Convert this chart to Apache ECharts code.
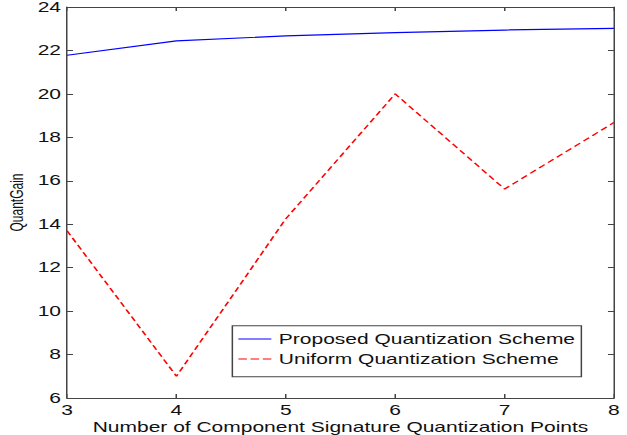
<!DOCTYPE html>
<html>
<head>
<meta charset="utf-8">
<script src="https://cdn.jsdelivr.net/npm/echarts@6/dist/echarts.min.js"></script>
<style>
  html, body { margin: 0; padding: 0; background: #fff; overflow: hidden; }
  /* The figure is laid out on a narrower canvas and stretched horizontally. */
  #wrap { width: 627px; height: 435px; overflow: hidden; }
  #chart { width: 418px; height: 435px; transform: scaleX(1.5); transform-origin: 0 0; }
</style>
</head>
<body>
<div id="wrap"><div id="chart"></div></div>
<script>
const quantPoints = [3, 4, 5, 6, 7, 8];
const proposedGain = [21.78, 22.44, 22.67, 22.82, 22.94, 23.02];
const uniformGain = [13.7, 7.0, 14.25, 20.0, 15.62, 18.68];
const seriesNames = ['Proposed Quantization Scheme', 'Uniform Quantization Scheme'];
const xAxisTitle = 'Number of Component Signature Quantization Points';
const yAxisTitle = 'QuantGain';

const pairs = (xs, ys) => xs.map((x, i) => [x, ys[i]]);

const frame = '#444';
const font = 'Liberation Sans, Arial, sans-serif';

// legend keys: a solid stroke and a three-dash stroke
const solidKey = 'path://M0,0h27v1h-27z';
const dashedKey = 'path://M0,0h7v1h-7zM10,0h7v1h-7zM20,0h7v1h-7z';

const chart = echarts.init(document.getElementById('chart'), null, { renderer: 'svg' });

const baseAxis = {
  axisLine: { show: true, lineStyle: { color: frame, width: 1 } },
  axisTick: { show: true, inside: true, length: 4, lineStyle: { color: frame } },
  splitLine: { show: false }
};

chart.setOption({
  animation: false,
  backgroundColor: '#fff',
  grid: { left: 44.7, right: 8.7, top: 7, bottom: 37, containLabel: false, outerBoundsMode: 'none' },
  xAxis: [
    Object.assign({}, baseAxis, {
      type: 'value', min: 3, max: 8, interval: 1, position: 'bottom',
      axisLabel: { color: '#111', fontSize: 14, fontFamily: font, margin: 5 },
      name: xAxisTitle, nameLocation: 'middle', nameGap: 22, nameMoveOverlap: false,
      nameTextStyle: { color: '#111', fontSize: 14, fontFamily: font }
    }),
    Object.assign({}, baseAxis, {
      type: 'value', min: 3, max: 8, interval: 1, position: 'top',
      axisLabel: { show: false }
    })
  ],
  yAxis: [
    Object.assign({}, baseAxis, {
      type: 'value', min: 6, max: 24, interval: 2, position: 'left',
      axisLabel: { color: '#111', fontSize: 14, fontFamily: font, margin: 4 },
      name: yAxisTitle, nameLocation: 'middle', nameGap: 28, nameMoveOverlap: false,
      nameTextStyle: { color: '#111', fontSize: 12, fontFamily: font }
    }),
    Object.assign({}, baseAxis, {
      type: 'value', min: 6, max: 24, interval: 2, position: 'right',
      axisLabel: { show: false }
    })
  ],
  legend: {
    orient: 'vertical',
    left: 154.9, top: 325.7,
    itemWidth: 22, itemHeight: 1.2, itemGap: 6,
    symbolKeepAspect: false,
    padding: [6.3, 4, 10.7, 4],
    borderColor: frame, borderWidth: 1,
    backgroundColor: '#fff',
    textStyle: { color: '#111', fontSize: 14, fontFamily: font },
    data: [
      { name: seriesNames[0], icon: solidKey },
      { name: seriesNames[1], icon: dashedKey }
    ]
  },
  series: [
    {
      name: seriesNames[0], type: 'line', xAxisIndex: 0, yAxisIndex: 0,
      data: pairs(quantPoints, proposedGain),
      showSymbol: false, symbol: 'none',
      lineStyle: { color: '#0000ff', width: 1.2, type: 'solid' },
      itemStyle: { color: '#0000ff' }
    },
    {
      name: seriesNames[1], type: 'line', xAxisIndex: 0, yAxisIndex: 0,
      data: pairs(quantPoints, uniformGain),
      showSymbol: false, symbol: 'none',
      lineStyle: { color: '#ff0000', width: 1.2, type: [5, 3] },
      itemStyle: { color: '#ff0000' }
    }
  ]
});
</script>
</body>
</html>
